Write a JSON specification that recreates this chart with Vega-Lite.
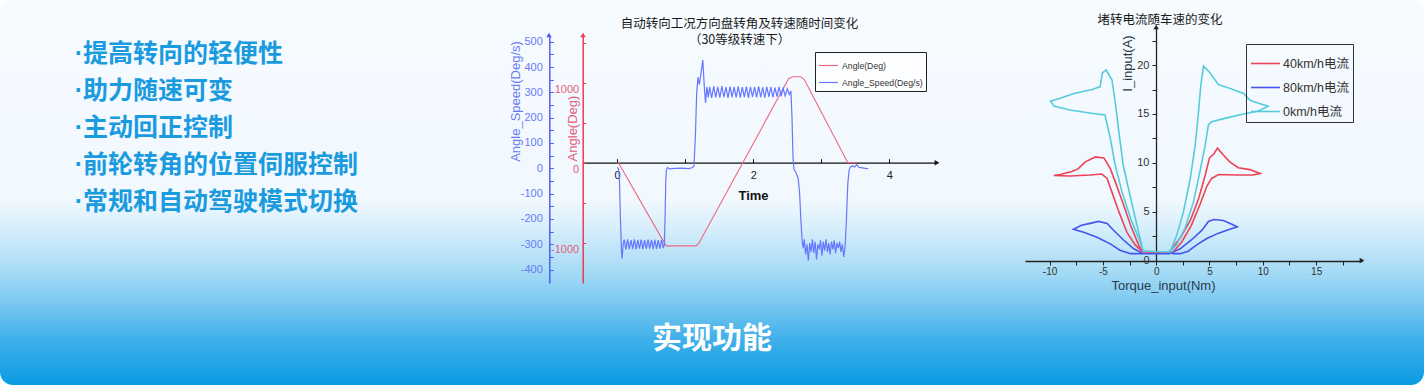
{
  "$schema": "https://vega.github.io/schema/vega-lite/v6.json",
  "width": 1424,
  "height": 385,
  "autosize": "none",
  "padding": 0,
  "background": "white",
  "config": {
    "view": {"stroke": null, "cornerRadius": 13, "fill": {"gradient": "linear", "x1": 0, "y1": 0, "x2": 0, "y2": 1, "stops": [
      {"offset": 0, "color": "#f6fbff"}, {"offset": 0.52, "color": "#f1f8fe"}, {"offset": 0.6, "color": "#d4edfb"},
      {"offset": 0.7, "color": "#a8dcf6"}, {"offset": 0.78, "color": "#7ecaf1"}, {"offset": 0.88, "color": "#40b0ea"}, {"offset": 1, "color": "#0a9be3"}]}},
    "axis": {"grid": false, "labelFont": "Liberation Sans", "titleFont": "Liberation Sans", "labelOverlap": false, "labelFlush": false, "labelBound": false},
    "legend": {"labelFont": "Liberation Sans, Noto Sans CJK SC"},
    "text": {"font": "Noto Sans CJK SC"}
  },
  "datasets": {
    "items": [
      {"line": 1, "label": "·提高转向的轻便性"},
      {"line": 2, "label": "·助力随速可变"},
      {"line": 3, "label": "·主动回正控制"},
      {"line": 4, "label": "·前轮转角的位置伺服控制"},
      {"line": 5, "label": "·常规和自动驾驶模式切换"}
    ],
    "c1": [
      {"series": "Angle(Deg)", "t": 0, "v": 0}, {"series": "Angle(Deg)", "t": 0.02, "v": 0}, {"series": "Angle(Deg)", "t": 0.72, "v": -1040},
      {"series": "Angle(Deg)", "t": 1.16, "v": -1040}, {"series": "Angle(Deg)", "t": 1.2, "v": -1010}, {"series": "Angle(Deg)", "t": 2.52, "v": 1050},
      {"series": "Angle(Deg)", "t": 2.58, "v": 1075}, {"series": "Angle(Deg)", "t": 2.7, "v": 1075}, {"series": "Angle(Deg)", "t": 2.75, "v": 1040},
      {"series": "Angle(Deg)", "t": 3.39, "v": 0}, {"series": "Angle(Deg)", "t": 3.52, "v": 0},
      {"series": "Angle_Speed(Deg/s)", "t": 0, "v": 3}, {"series": "Angle_Speed(Deg/s)", "t": 0.02, "v": 0}, {"series": "Angle_Speed(Deg/s)", "t": 0.035, "v": -40},
      {"series": "Angle_Speed(Deg/s)", "t": 0.05, "v": -200}, {"series": "Angle_Speed(Deg/s)", "t": 0.065, "v": -330}, {"series": "Angle_Speed(Deg/s)", "t": 0.075, "v": -356},
      {"series": "Angle_Speed(Deg/s)", "t": 0.09, "v": -300}, {"series": "Angle_Speed(Deg/s)", "t": 0.105, "v": -282}, {"series": "Angle_Speed(Deg/s)", "t": 0.13, "v": -320},
      {"series": "Angle_Speed(Deg/s)", "t": 0.155, "v": -281}, {"series": "Angle_Speed(Deg/s)", "t": 0.18, "v": -319}, {"series": "Angle_Speed(Deg/s)", "t": 0.205, "v": -284},
      {"series": "Angle_Speed(Deg/s)", "t": 0.23, "v": -318}, {"series": "Angle_Speed(Deg/s)", "t": 0.255, "v": -281}, {"series": "Angle_Speed(Deg/s)", "t": 0.28, "v": -320},
      {"series": "Angle_Speed(Deg/s)", "t": 0.305, "v": -283}, {"series": "Angle_Speed(Deg/s)", "t": 0.33, "v": -317}, {"series": "Angle_Speed(Deg/s)", "t": 0.355, "v": -282},
      {"series": "Angle_Speed(Deg/s)", "t": 0.38, "v": -319}, {"series": "Angle_Speed(Deg/s)", "t": 0.405, "v": -284}, {"series": "Angle_Speed(Deg/s)", "t": 0.43, "v": -318},
      {"series": "Angle_Speed(Deg/s)", "t": 0.455, "v": -282}, {"series": "Angle_Speed(Deg/s)", "t": 0.48, "v": -317}, {"series": "Angle_Speed(Deg/s)", "t": 0.505, "v": -283},
      {"series": "Angle_Speed(Deg/s)", "t": 0.53, "v": -319}, {"series": "Angle_Speed(Deg/s)", "t": 0.555, "v": -282}, {"series": "Angle_Speed(Deg/s)", "t": 0.58, "v": -318},
      {"series": "Angle_Speed(Deg/s)", "t": 0.605, "v": -284}, {"series": "Angle_Speed(Deg/s)", "t": 0.63, "v": -317}, {"series": "Angle_Speed(Deg/s)", "t": 0.655, "v": -283},
      {"series": "Angle_Speed(Deg/s)", "t": 0.68, "v": -315}, {"series": "Angle_Speed(Deg/s)", "t": 0.695, "v": -300}, {"series": "Angle_Speed(Deg/s)", "t": 0.705, "v": -200},
      {"series": "Angle_Speed(Deg/s)", "t": 0.715, "v": -60}, {"series": "Angle_Speed(Deg/s)", "t": 0.725, "v": -5}, {"series": "Angle_Speed(Deg/s)", "t": 0.74, "v": 3},
      {"series": "Angle_Speed(Deg/s)", "t": 0.77, "v": -2}, {"series": "Angle_Speed(Deg/s)", "t": 0.85, "v": 0}, {"series": "Angle_Speed(Deg/s)", "t": 0.95, "v": 1},
      {"series": "Angle_Speed(Deg/s)", "t": 1.05, "v": -1}, {"series": "Angle_Speed(Deg/s)", "t": 1.1, "v": 2}, {"series": "Angle_Speed(Deg/s)", "t": 1.13, "v": 8},
      {"series": "Angle_Speed(Deg/s)", "t": 1.15, "v": 120}, {"series": "Angle_Speed(Deg/s)", "t": 1.17, "v": 300}, {"series": "Angle_Speed(Deg/s)", "t": 1.19, "v": 360},
      {"series": "Angle_Speed(Deg/s)", "t": 1.21, "v": 330}, {"series": "Angle_Speed(Deg/s)", "t": 1.23, "v": 370}, {"series": "Angle_Speed(Deg/s)", "t": 1.26, "v": 428},
      {"series": "Angle_Speed(Deg/s)", "t": 1.28, "v": 330}, {"series": "Angle_Speed(Deg/s)", "t": 1.3, "v": 258}, {"series": "Angle_Speed(Deg/s)", "t": 1.32, "v": 322},
      {"series": "Angle_Speed(Deg/s)", "t": 1.34, "v": 280}, {"series": "Angle_Speed(Deg/s)", "t": 1.36, "v": 322}, {"series": "Angle_Speed(Deg/s)", "t": 1.39, "v": 278},
      {"series": "Angle_Speed(Deg/s)", "t": 1.42, "v": 324}, {"series": "Angle_Speed(Deg/s)", "t": 1.45, "v": 280}, {"series": "Angle_Speed(Deg/s)", "t": 1.48, "v": 322},
      {"series": "Angle_Speed(Deg/s)", "t": 1.51, "v": 279}, {"series": "Angle_Speed(Deg/s)", "t": 1.54, "v": 325}, {"series": "Angle_Speed(Deg/s)", "t": 1.57, "v": 281},
      {"series": "Angle_Speed(Deg/s)", "t": 1.6, "v": 321}, {"series": "Angle_Speed(Deg/s)", "t": 1.63, "v": 278}, {"series": "Angle_Speed(Deg/s)", "t": 1.66, "v": 323},
      {"series": "Angle_Speed(Deg/s)", "t": 1.69, "v": 281}, {"series": "Angle_Speed(Deg/s)", "t": 1.72, "v": 322}, {"series": "Angle_Speed(Deg/s)", "t": 1.75, "v": 280},
      {"series": "Angle_Speed(Deg/s)", "t": 1.78, "v": 324}, {"series": "Angle_Speed(Deg/s)", "t": 1.81, "v": 279}, {"series": "Angle_Speed(Deg/s)", "t": 1.84, "v": 321},
      {"series": "Angle_Speed(Deg/s)", "t": 1.87, "v": 281}, {"series": "Angle_Speed(Deg/s)", "t": 1.9, "v": 323}, {"series": "Angle_Speed(Deg/s)", "t": 1.93, "v": 278},
      {"series": "Angle_Speed(Deg/s)", "t": 1.96, "v": 322}, {"series": "Angle_Speed(Deg/s)", "t": 1.99, "v": 282}, {"series": "Angle_Speed(Deg/s)", "t": 2.02, "v": 321},
      {"series": "Angle_Speed(Deg/s)", "t": 2.05, "v": 280}, {"series": "Angle_Speed(Deg/s)", "t": 2.08, "v": 324}, {"series": "Angle_Speed(Deg/s)", "t": 2.11, "v": 281},
      {"series": "Angle_Speed(Deg/s)", "t": 2.14, "v": 320}, {"series": "Angle_Speed(Deg/s)", "t": 2.17, "v": 279}, {"series": "Angle_Speed(Deg/s)", "t": 2.2, "v": 322},
      {"series": "Angle_Speed(Deg/s)", "t": 2.23, "v": 282}, {"series": "Angle_Speed(Deg/s)", "t": 2.26, "v": 321}, {"series": "Angle_Speed(Deg/s)", "t": 2.29, "v": 280},
      {"series": "Angle_Speed(Deg/s)", "t": 2.32, "v": 319}, {"series": "Angle_Speed(Deg/s)", "t": 2.35, "v": 283}, {"series": "Angle_Speed(Deg/s)", "t": 2.38, "v": 322},
      {"series": "Angle_Speed(Deg/s)", "t": 2.41, "v": 284}, {"series": "Angle_Speed(Deg/s)", "t": 2.44, "v": 316}, {"series": "Angle_Speed(Deg/s)", "t": 2.47, "v": 286},
      {"series": "Angle_Speed(Deg/s)", "t": 2.5, "v": 314}, {"series": "Angle_Speed(Deg/s)", "t": 2.53, "v": 291}, {"series": "Angle_Speed(Deg/s)", "t": 2.555, "v": 305},
      {"series": "Angle_Speed(Deg/s)", "t": 2.57, "v": 200}, {"series": "Angle_Speed(Deg/s)", "t": 2.585, "v": 40}, {"series": "Angle_Speed(Deg/s)", "t": 2.6, "v": -5},
      {"series": "Angle_Speed(Deg/s)", "t": 2.62, "v": -12}, {"series": "Angle_Speed(Deg/s)", "t": 2.64, "v": -25}, {"series": "Angle_Speed(Deg/s)", "t": 2.66, "v": -40},
      {"series": "Angle_Speed(Deg/s)", "t": 2.68, "v": -90}, {"series": "Angle_Speed(Deg/s)", "t": 2.7, "v": -200}, {"series": "Angle_Speed(Deg/s)", "t": 2.72, "v": -290},
      {"series": "Angle_Speed(Deg/s)", "t": 2.735, "v": -315}, {"series": "Angle_Speed(Deg/s)", "t": 2.75, "v": -280}, {"series": "Angle_Speed(Deg/s)", "t": 2.77, "v": -340},
      {"series": "Angle_Speed(Deg/s)", "t": 2.79, "v": -300}, {"series": "Angle_Speed(Deg/s)", "t": 2.81, "v": -365}, {"series": "Angle_Speed(Deg/s)", "t": 2.83, "v": -295},
      {"series": "Angle_Speed(Deg/s)", "t": 2.85, "v": -330}, {"series": "Angle_Speed(Deg/s)", "t": 2.87, "v": -280}, {"series": "Angle_Speed(Deg/s)", "t": 2.89, "v": -335},
      {"series": "Angle_Speed(Deg/s)", "t": 2.91, "v": -290}, {"series": "Angle_Speed(Deg/s)", "t": 2.93, "v": -360}, {"series": "Angle_Speed(Deg/s)", "t": 2.95, "v": -300},
      {"series": "Angle_Speed(Deg/s)", "t": 2.97, "v": -320}, {"series": "Angle_Speed(Deg/s)", "t": 2.99, "v": -285}, {"series": "Angle_Speed(Deg/s)", "t": 3.01, "v": -345},
      {"series": "Angle_Speed(Deg/s)", "t": 3.03, "v": -290}, {"series": "Angle_Speed(Deg/s)", "t": 3.05, "v": -325}, {"series": "Angle_Speed(Deg/s)", "t": 3.07, "v": -280},
      {"series": "Angle_Speed(Deg/s)", "t": 3.09, "v": -330}, {"series": "Angle_Speed(Deg/s)", "t": 3.11, "v": -295}, {"series": "Angle_Speed(Deg/s)", "t": 3.13, "v": -340},
      {"series": "Angle_Speed(Deg/s)", "t": 3.15, "v": -290}, {"series": "Angle_Speed(Deg/s)", "t": 3.17, "v": -320}, {"series": "Angle_Speed(Deg/s)", "t": 3.19, "v": -285},
      {"series": "Angle_Speed(Deg/s)", "t": 3.21, "v": -335}, {"series": "Angle_Speed(Deg/s)", "t": 3.23, "v": -295}, {"series": "Angle_Speed(Deg/s)", "t": 3.25, "v": -315},
      {"series": "Angle_Speed(Deg/s)", "t": 3.27, "v": -290}, {"series": "Angle_Speed(Deg/s)", "t": 3.29, "v": -330}, {"series": "Angle_Speed(Deg/s)", "t": 3.31, "v": -300},
      {"series": "Angle_Speed(Deg/s)", "t": 3.33, "v": -350}, {"series": "Angle_Speed(Deg/s)", "t": 3.35, "v": -310}, {"series": "Angle_Speed(Deg/s)", "t": 3.37, "v": -200},
      {"series": "Angle_Speed(Deg/s)", "t": 3.39, "v": -60}, {"series": "Angle_Speed(Deg/s)", "t": 3.41, "v": -5}, {"series": "Angle_Speed(Deg/s)", "t": 3.43, "v": 5},
      {"series": "Angle_Speed(Deg/s)", "t": 3.46, "v": 10}, {"series": "Angle_Speed(Deg/s)", "t": 3.49, "v": 5}, {"series": "Angle_Speed(Deg/s)", "t": 3.52, "v": 15},
      {"series": "Angle_Speed(Deg/s)", "t": 3.55, "v": 4}, {"series": "Angle_Speed(Deg/s)", "t": 3.6, "v": 2}, {"series": "Angle_Speed(Deg/s)", "t": 3.65, "v": 0},
      {"series": "Angle_Speed(Deg/s)", "t": 3.69, "v": -1}
    ],
    "c2": [
      {"s": "80km/h电流", "o": 1, "tq": -1.2, "cur": 0.7}, {"s": "80km/h电流", "o": 2, "tq": -2.1, "cur": 1.2}, {"s": "80km/h电流", "o": 3, "tq": -3.06, "cur": 2.1},
      {"s": "80km/h电流", "o": 4, "tq": -4.0, "cur": 3.1}, {"s": "80km/h电流", "o": 5, "tq": -4.6, "cur": 3.8}, {"s": "80km/h电流", "o": 6, "tq": -5.4, "cur": 4.0},
      {"s": "80km/h电流", "o": 7, "tq": -6.2, "cur": 3.8}, {"s": "80km/h电流", "o": 8, "tq": -7.0, "cur": 3.6}, {"s": "80km/h电流", "o": 9, "tq": -7.75, "cur": 3.2},
      {"s": "80km/h电流", "o": 10, "tq": -6.8, "cur": 2.9}, {"s": "80km/h电流", "o": 11, "tq": -5.6, "cur": 2.4}, {"s": "80km/h电流", "o": 12, "tq": -4.3, "cur": 1.7},
      {"s": "80km/h电流", "o": 13, "tq": -3.4, "cur": 1.05}, {"s": "80km/h电流", "o": 14, "tq": -2.4, "cur": 0.7}, {"s": "80km/h电流", "o": 15, "tq": -1.3, "cur": 0.7},
      {"s": "80km/h电流", "o": 16, "tq": 0, "cur": 0.72}, {"s": "80km/h电流", "o": 17, "tq": 1.25, "cur": 0.7}, {"s": "80km/h电流", "o": 18, "tq": 2.25, "cur": 1.2},
      {"s": "80km/h电流", "o": 19, "tq": 3.3, "cur": 2.1}, {"s": "80km/h电流", "o": 20, "tq": 4.3, "cur": 3.1}, {"s": "80km/h电流", "o": 21, "tq": 4.9, "cur": 4.0},
      {"s": "80km/h电流", "o": 22, "tq": 5.4, "cur": 4.2}, {"s": "80km/h电流", "o": 23, "tq": 6.3, "cur": 4.1}, {"s": "80km/h电流", "o": 24, "tq": 7.1, "cur": 3.7},
      {"s": "80km/h电流", "o": 25, "tq": 7.6, "cur": 3.45}, {"s": "80km/h电流", "o": 26, "tq": 6.9, "cur": 3.2}, {"s": "80km/h电流", "o": 27, "tq": 5.85, "cur": 2.8},
      {"s": "80km/h电流", "o": 28, "tq": 4.75, "cur": 2.25}, {"s": "80km/h电流", "o": 29, "tq": 3.8, "cur": 1.6}, {"s": "80km/h电流", "o": 30, "tq": 3.0, "cur": 0.95},
      {"s": "80km/h电流", "o": 31, "tq": 2.25, "cur": 0.7}, {"s": "80km/h电流", "o": 32, "tq": 1.5, "cur": 0.7},
      {"s": "40km/h电流", "o": 1, "tq": -1.3, "cur": 0.9}, {"s": "40km/h电流", "o": 2, "tq": -1.65, "cur": 1.6}, {"s": "40km/h电流", "o": 3, "tq": -2.4, "cur": 3.6},
      {"s": "40km/h电流", "o": 4, "tq": -3.06, "cur": 5.7}, {"s": "40km/h电流", "o": 5, "tq": -3.85, "cur": 8.1}, {"s": "40km/h电流", "o": 6, "tq": -4.3, "cur": 9.4},
      {"s": "40km/h电流", "o": 7, "tq": -4.9, "cur": 10.5}, {"s": "40km/h电流", "o": 8, "tq": -5.7, "cur": 10.6}, {"s": "40km/h电流", "o": 9, "tq": -6.65, "cur": 10.1},
      {"s": "40km/h电流", "o": 10, "tq": -7.3, "cur": 9.4}, {"s": "40km/h电流", "o": 11, "tq": -7.9, "cur": 9.1}, {"s": "40km/h电流", "o": 12, "tq": -9.0, "cur": 8.8},
      {"s": "40km/h电流", "o": 13, "tq": -9.6, "cur": 8.7}, {"s": "40km/h电流", "o": 14, "tq": -8.1, "cur": 8.65}, {"s": "40km/h电流", "o": 15, "tq": -6.2, "cur": 8.75},
      {"s": "40km/h电流", "o": 16, "tq": -5.1, "cur": 8.85}, {"s": "40km/h电流", "o": 17, "tq": -4.6, "cur": 8.4}, {"s": "40km/h电流", "o": 18, "tq": -4.15, "cur": 7.0},
      {"s": "40km/h电流", "o": 19, "tq": -3.5, "cur": 5.0}, {"s": "40km/h电流", "o": 20, "tq": -2.75, "cur": 2.9}, {"s": "40km/h电流", "o": 21, "tq": -1.97, "cur": 1.6},
      {"s": "40km/h电流", "o": 22, "tq": -1.3, "cur": 0.9}, {"s": "40km/h电流", "o": 23, "tq": 0, "cur": 0.85}, {"s": "40km/h电流", "o": 24, "tq": 1.25, "cur": 0.9},
      {"s": "40km/h电流", "o": 25, "tq": 2.25, "cur": 2.3}, {"s": "40km/h电流", "o": 26, "tq": 3.2, "cur": 4.1}, {"s": "40km/h电流", "o": 27, "tq": 4.0, "cur": 6.4},
      {"s": "40km/h电流", "o": 28, "tq": 4.6, "cur": 8.75}, {"s": "40km/h电流", "o": 29, "tq": 5.0, "cur": 10.5}, {"s": "40km/h电流", "o": 30, "tq": 5.4, "cur": 10.9},
      {"s": "40km/h电流", "o": 31, "tq": 5.75, "cur": 11.5}, {"s": "40km/h电流", "o": 32, "tq": 6.3, "cur": 10.8}, {"s": "40km/h电流", "o": 33, "tq": 6.9, "cur": 10.1},
      {"s": "40km/h电流", "o": 34, "tq": 7.7, "cur": 9.5}, {"s": "40km/h电流", "o": 35, "tq": 8.8, "cur": 9.3}, {"s": "40km/h电流", "o": 36, "tq": 9.75, "cur": 8.9},
      {"s": "40km/h电流", "o": 37, "tq": 9.1, "cur": 8.75}, {"s": "40km/h电流", "o": 38, "tq": 7.6, "cur": 8.75}, {"s": "40km/h电流", "o": 39, "tq": 5.85, "cur": 8.8},
      {"s": "40km/h电流", "o": 40, "tq": 5.2, "cur": 8.4}, {"s": "40km/h电流", "o": 41, "tq": 4.75, "cur": 7.6}, {"s": "40km/h电流", "o": 42, "tq": 4.1, "cur": 5.7},
      {"s": "40km/h电流", "o": 43, "tq": 3.3, "cur": 3.6}, {"s": "40km/h电流", "o": 44, "tq": 2.4, "cur": 1.9}, {"s": "40km/h电流", "o": 45, "tq": 1.6, "cur": 0.9},
      {"s": "0km/h电流", "o": 1, "tq": -1.2, "cur": 0.9}, {"s": "0km/h电流", "o": 2, "tq": -1.65, "cur": 2.9}, {"s": "0km/h电流", "o": 3, "tq": -2.4, "cur": 6.4},
      {"s": "0km/h电流", "o": 4, "tq": -3.1, "cur": 9.8}, {"s": "0km/h电流", "o": 5, "tq": -3.5, "cur": 13.2}, {"s": "0km/h电流", "o": 6, "tq": -3.85, "cur": 16.3},
      {"s": "0km/h电流", "o": 7, "tq": -4.15, "cur": 18.5}, {"s": "0km/h电流", "o": 8, "tq": -4.7, "cur": 19.5}, {"s": "0km/h电流", "o": 9, "tq": -5.05, "cur": 19.2},
      {"s": "0km/h电流", "o": 10, "tq": -5.25, "cur": 17.8}, {"s": "0km/h电流", "o": 11, "tq": -6.0, "cur": 17.5}, {"s": "0km/h电流", "o": 12, "tq": -7.7, "cur": 17.1},
      {"s": "0km/h电流", "o": 13, "tq": -9.0, "cur": 16.6}, {"s": "0km/h电流", "o": 14, "tq": -9.9, "cur": 16.3}, {"s": "0km/h电流", "o": 15, "tq": -9.6, "cur": 15.8},
      {"s": "0km/h电流", "o": 16, "tq": -8.1, "cur": 15.4}, {"s": "0km/h电流", "o": 17, "tq": -6.25, "cur": 15.1}, {"s": "0km/h电流", "o": 18, "tq": -4.8, "cur": 14.9},
      {"s": "0km/h电流", "o": 19, "tq": -4.3, "cur": 12.5}, {"s": "0km/h电流", "o": 20, "tq": -3.85, "cur": 9.8}, {"s": "0km/h电流", "o": 21, "tq": -3.2, "cur": 7.0},
      {"s": "0km/h电流", "o": 22, "tq": -2.4, "cur": 4.3}, {"s": "0km/h电流", "o": 23, "tq": -1.65, "cur": 2.3}, {"s": "0km/h电流", "o": 24, "tq": -1.2, "cur": 1.0},
      {"s": "0km/h电流", "o": 25, "tq": 0, "cur": 0.9}, {"s": "0km/h电流", "o": 26, "tq": 1.3, "cur": 0.9}, {"s": "0km/h电流", "o": 27, "tq": 1.94, "cur": 2.6},
      {"s": "0km/h电流", "o": 28, "tq": 2.56, "cur": 5.0}, {"s": "0km/h电流", "o": 29, "tq": 3.2, "cur": 8.4}, {"s": "0km/h电流", "o": 30, "tq": 3.66, "cur": 11.8},
      {"s": "0km/h电流", "o": 31, "tq": 3.97, "cur": 15.2}, {"s": "0km/h电流", "o": 32, "tq": 4.19, "cur": 18.0}, {"s": "0km/h电流", "o": 33, "tq": 4.44, "cur": 19.9},
      {"s": "0km/h电流", "o": 34, "tq": 5.06, "cur": 19.2}, {"s": "0km/h电流", "o": 35, "tq": 5.84, "cur": 18.0}, {"s": "0km/h电流", "o": 36, "tq": 6.94, "cur": 17.6},
      {"s": "0km/h电流", "o": 37, "tq": 8.2, "cur": 17.1}, {"s": "0km/h电流", "o": 38, "tq": 8.8, "cur": 16.4}, {"s": "0km/h电流", "o": 39, "tq": 9.6, "cur": 16.1},
      {"s": "0km/h电流", "o": 40, "tq": 10.5, "cur": 15.8}, {"s": "0km/h电流", "o": 41, "tq": 9.6, "cur": 15.3}, {"s": "0km/h电流", "o": 42, "tq": 8.2, "cur": 15.0},
      {"s": "0km/h电流", "o": 43, "tq": 6.6, "cur": 14.6}, {"s": "0km/h电流", "o": 44, "tq": 5.2, "cur": 14.2}, {"s": "0km/h电流", "o": 45, "tq": 4.9, "cur": 13.9},
      {"s": "0km/h电流", "o": 46, "tq": 4.6, "cur": 11.8}, {"s": "0km/h电流", "o": 47, "tq": 4.1, "cur": 9.1}, {"s": "0km/h电流", "o": 48, "tq": 3.5, "cur": 6.0},
      {"s": "0km/h电流", "o": 49, "tq": 2.7, "cur": 3.3}, {"s": "0km/h电流", "o": 50, "tq": 1.9, "cur": 1.6}, {"s": "0km/h电流", "o": 51, "tq": 1.3, "cur": 0.9}
    ]
  },
  "layer": [
    {
      "data": {"name": "items"},
      "mark": {"type": "text", "align": "left", "baseline": "middle", "font": "Liberation Sans, Noto Sans CJK SC", "fontWeight": "bold", "fontSize": 25, "color": "#1a9be0"},
      "encoding": {
        "x": {"datum": 0.0525, "type": "quantitative", "scale": {"domain": [0, 1], "range": [0, 1424]}, "axis": null},
        "y": {"field": "line", "type": "quantitative", "scale": {"domain": [1, 5], "range": [53.5, 202]}, "axis": null},
        "text": {"field": "label"}
      }
    },
    {
      "data": {"values": [{"label": "实现功能"}]},
      "mark": {"type": "text", "align": "center", "baseline": "middle", "font": "Noto Sans CJK SC", "fontWeight": "bold", "fontSize": 30, "color": "white"},
      "encoding": {
        "x": {"datum": 0.5, "type": "quantitative", "scale": {"domain": [0, 1], "range": [0, 1424]}, "axis": null},
        "y": {"datum": 0.88, "type": "quantitative", "scale": {"domain": [0, 1], "range": [0, 385]}, "axis": null},
        "text": {"field": "label"}
      }
    },
    {
      "data": {"name": "c1"},
      "layer": [
        {
          "transform": [{"filter": "datum.series == 'Angle(Deg)'"}],
          "mark": {"type": "line", "strokeWidth": 1.1},
          "encoding": {
            "x": {"field": "t", "type": "quantitative", "scale": {"domain": [-0.5, 4.7], "range": [583, 937]},
              "axis": {"orient": "bottom", "offset": -222.3, "values": [0, 1, 2, 3, 4], "labelExpr": "datum.value % 2 == 0 ? '' + datum.value : ''",
                "tickSize": -4, "labelPadding": 11, "domainColor": "#111", "tickColor": "#111", "labelColor": "#222", "labelFontSize": 11, "domainWidth": 1.3,
                "title": "Time", "titleFontSize": 13, "titleFontWeight": "bold", "titleColor": "#111", "titleX": 753, "titleY": 33, "titleBaseline": "middle", "titleAlign": "center"}},
            "y": {"field": "v", "type": "quantitative", "scale": {"domain": [-1504, 1596], "range": [283, 35]},
              "axis": {"orient": "left", "offset": -582.7, "values": [-1000, -500, 0, 500, 1000, 1500], "labelExpr": "datum.value % 1000 == 0 ? '' + datum.value : ''",
                "tickSize": -3, "labelPadding": 7, "labelBaseline": "top", "labelOffset": 1, "domainColor": "#f03a50", "tickColor": "#f03a50", "labelColor": "#e2607a",
                "labelFontSize": 11, "domainWidth": 1.5, "title": "Angle(Deg)", "titleColor": "#e2607a", "titleFontSize": 13, "titleFontWeight": "normal",
                "titleX": -10, "titleY": 128, "titleAngle": -90, "titleAlign": "center", "titleBaseline": "middle"}},
            "color": {"field": "series", "type": "nominal", "scale": {"domain": ["Angle(Deg)", "Angle_Speed(Deg/s)"], "range": ["#ee6680", "#6677ff"]},
              "legend": {"orient": "none", "legendX": 815, "legendY": 52, "title": null, "strokeColor": "#222", "fillColor": "#fdfeff", "padding": 3,
                "symbolType": "stroke", "symbolSize": 361, "symbolStrokeWidth": 1.2, "labelFontSize": 8.7, "labelColor": "#333", "rowPadding": 1, "labelOffset": 3}}
          }
        },
        {
          "transform": [{"filter": "datum.series == 'Angle_Speed(Deg/s)'"}],
          "mark": {"type": "line", "strokeWidth": 1.2},
          "encoding": {
            "x": {"field": "t", "type": "quantitative", "scale": {"domain": [-0.5, 4.7], "range": [583, 937]}, "axis": null},
            "y": {"field": "v", "type": "quantitative", "scale": {"domain": [-453, 526.5], "range": [283, 35]},
              "axis": {"orient": "left", "offset": -549.3, "values": [-400, -350, -300, -250, -200, -150, -100, -50, 0, 50, 100, 150, 200, 250, 300, 350, 400, 450, 500],
                "labelExpr": "datum.value % 100 == 0 ? '' + datum.value : ''", "tickSize": -4, "labelPadding": 11, "domainColor": "#5060f0", "tickColor": "#5060f0",
                "labelColor": "#6a7af5", "labelFontSize": 11, "domainWidth": 1.5, "title": "Angle_Speed(Deg/s)", "titleColor": "#6a7af5", "titleFontSize": 13,
                "titleFontWeight": "normal", "titleX": -34, "titleY": 101, "titleAngle": -90, "titleAlign": "center", "titleBaseline": "middle"}},
            "color": {"field": "series", "type": "nominal", "scale": {"domain": ["Angle(Deg)", "Angle_Speed(Deg/s)"], "range": ["#ee6680", "#6677ff"]}}
          }
        },
        {
          "data": {"values": [{"line": 1, "txt": "自动转向工况方向盘转角及转速随时间变化"}, {"line": 2, "txt": "（30等级转速下）"}]},
          "mark": {"type": "text", "align": "center", "baseline": "middle", "font": "Noto Sans CJK SC", "fontSize": 12.5, "color": "#1a1a1a"},
          "encoding": {
            "x": {"datum": 1.8, "type": "quantitative", "scale": {"domain": [-0.5, 4.7], "range": [583, 937]}, "axis": null},
            "y": {"field": "line", "type": "quantitative", "scale": {"domain": [1, 2], "range": [23.5, 40]}, "axis": null},
            "text": {"field": "txt"}
          }
        },
        {
          "data": {"values": [{}]},
          "mark": {"type": "point", "shape": "triangle-right", "filled": true, "size": 30, "color": "#111", "opacity": 1},
          "encoding": {
            "x": {"datum": 4.7, "type": "quantitative", "scale": {"domain": [-0.5, 4.7], "range": [583, 937]}, "axis": null},
            "y": {"datum": 0, "type": "quantitative", "scale": {"domain": [-1504, 1596], "range": [283, 35]}, "axis": null}
          }
        },
        {
          "data": {"values": [{}]},
          "mark": {"type": "point", "shape": "triangle-up", "filled": true, "size": 30, "color": "#f03a50", "opacity": 1},
          "encoding": {
            "x": {"datum": -0.5, "type": "quantitative", "scale": {"domain": [-0.5, 4.7], "range": [583, 937]}, "axis": null},
            "y": {"datum": 1596, "type": "quantitative", "scale": {"domain": [-1504, 1596], "range": [283, 35]}, "axis": null}
          }
        },
        {
          "data": {"values": [{}]},
          "mark": {"type": "point", "shape": "triangle-up", "filled": true, "size": 30, "color": "#5060f0", "opacity": 1},
          "encoding": {
            "x": {"datum": -1.0, "type": "quantitative", "scale": {"domain": [-0.5, 4.7], "range": [583, 937]}, "axis": null},
            "y": {"datum": 526.5, "type": "quantitative", "scale": {"domain": [-453, 526.5], "range": [283, 35]}, "axis": null}
          }
        }
      ],
      "resolve": {"scale": {"x": "independent", "y": "independent"}}
    },
    {
      "layer": [
        {
          "data": {"name": "c2"},
          "mark": {"type": "line", "strokeWidth": 1.6},
          "encoding": {
            "x": {"field": "tq", "type": "quantitative", "scale": {"domain": [-12.3, 19.3], "range": [1025, 1362]},
              "axis": {"orient": "bottom", "offset": -124, "values": [-10, -7.5, -5, -2.5, 0, 2.5, 5, 7.5, 10, 12.5, 15, 17.5],
                "labelExpr": "datum.value % 5 == 0 ? '' + datum.value : ''", "tickSize": 4, "labelPadding": 1, "domainColor": "#222", "tickColor": "#222",
                "labelColor": "#333", "labelFontSize": 10, "domainWidth": 1.3, "title": "Torque_input(Nm)", "titleFontSize": 13, "titleFontWeight": "normal",
                "titleColor": "#2a3a4a", "titleX": 1163, "titleY": 24, "titleBaseline": "middle", "titleAlign": "center"}},
            "y": {"field": "cur", "type": "quantitative", "scale": {"domain": [0, 23.9], "range": [260.5, 27]},
              "axis": {"orient": "left", "offset": -1156, "values": [0, 2.5, 5, 7.5, 10, 12.5, 15, 17.5, 20, 22.5],
                "labelExpr": "datum.value % 5 == 0 ? '' + datum.value : ''", "tickSize": 4, "labelPadding": 3, "domainColor": "#222", "tickColor": "#222",
                "labelColor": "#333", "labelFontSize": 11, "domainWidth": 1.3, "title": "I_input(A)", "titleFontSize": 13, "titleFontWeight": "normal",
                "titleColor": "#2a3a4a", "titleX": -29, "titleY": 63, "titleAngle": -90, "titleAlign": "center", "titleBaseline": "middle"}},
            "color": {"field": "s", "type": "nominal", "scale": {"domain": ["40km/h电流", "80km/h电流", "0km/h电流"], "range": ["#ee4455", "#4455ee", "#55ccdd"]},
              "legend": {"orient": "none", "legendX": 1246, "legendY": 44, "title": null, "strokeColor": "#333", "padding": 4, "symbolType": "stroke",
                "symbolSize": 841, "symbolStrokeWidth": 1.6, "labelFontSize": 12.5, "labelColor": "#333", "rowPadding": 2, "labelOffset": 2}},
            "order": {"field": "o", "type": "quantitative"}
          }
        },
        {
          "data": {"values": [{}]},
          "mark": {"type": "point", "shape": "triangle-up", "filled": true, "size": 30, "color": "#222", "opacity": 1},
          "encoding": {
            "x": {"datum": 0, "type": "quantitative", "scale": {"domain": [-12.3, 19.3], "range": [1025, 1362]}, "axis": null},
            "y": {"datum": 23.9, "type": "quantitative", "scale": {"domain": [0, 23.9], "range": [260.5, 27]}, "axis": null}
          }
        },
        {
          "data": {"values": [{}]},
          "mark": {"type": "point", "shape": "triangle-right", "filled": true, "size": 30, "color": "#222", "opacity": 1},
          "encoding": {
            "x": {"datum": 19.3, "type": "quantitative", "scale": {"domain": [-12.3, 19.3], "range": [1025, 1362]}, "axis": null},
            "y": {"datum": 0, "type": "quantitative", "scale": {"domain": [0, 23.9], "range": [260.5, 27]}, "axis": null}
          }
        },
        {
          "data": {"values": [{"txt": "堵转电流随车速的变化"}]},
          "mark": {"type": "text", "align": "center", "baseline": "middle", "font": "Noto Sans CJK SC", "fontSize": 12.5, "color": "#1a1a1a"},
          "encoding": {
            "x": {"datum": 0.36, "type": "quantitative", "scale": {"domain": [-12.3, 19.3], "range": [1025, 1362]}, "axis": null},
            "y": {"datum": 24.6, "type": "quantitative", "scale": {"domain": [0, 23.9], "range": [260.5, 27]}, "axis": null},
            "text": {"field": "txt"}
          }
        }
      ],
      "resolve": {"scale": {"x": "independent", "y": "independent"}}
    }
  ],
  "resolve": {"scale": {"x": "independent", "y": "independent", "color": "independent"}}
}
